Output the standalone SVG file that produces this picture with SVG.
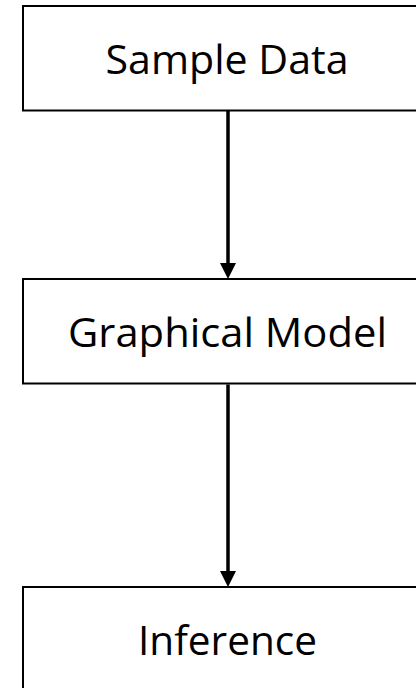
<svg xmlns="http://www.w3.org/2000/svg" width="416" height="688" viewBox="0 0 416 688">
  <style>
    .box { fill: #ffffff; stroke: #000000; stroke-width: 2; }
    .label { font-family: "Open Sans", "Noto Sans", "Liberation Sans", sans-serif; font-size: 41px; fill: #000000; text-anchor: middle; }
    .conn { stroke: #000000; stroke-width: 3.5; fill: none; }
  </style>
  <defs>
    <marker id="arrow" markerUnits="userSpaceOnUse" markerWidth="16" markerHeight="16" refX="2" refY="8" orient="auto">
      <path d="M0,0 L16,8 L0,16 z" fill="#000000"/>
    </marker>
  </defs>
  <rect x="0" y="0" width="416" height="688" fill="#ffffff"/>
  <g id="node-sample-data">
    <rect class="box" x="23" y="6" width="420" height="104.5"/>
    <text class="label" x="227" y="74" textLength="243" lengthAdjust="spacingAndGlyphs">Sample Data</text>
  </g>
  <g id="node-graphical-model">
    <rect class="box" x="23" y="279" width="420" height="104.5"/>
    <text class="label" x="227.5" y="347" textLength="319" lengthAdjust="spacingAndGlyphs">Graphical Model</text>
  </g>
  <g id="node-inference">
    <rect class="box" x="23" y="587" width="420" height="120"/>
    <text class="label" x="227.5" y="655" textLength="179" lengthAdjust="spacingAndGlyphs">Inference</text>
  </g>
  <g id="connectors">
    <line class="conn" x1="228" y1="111" x2="228" y2="265" marker-end="url(#arrow)"/>
    <line class="conn" x1="228" y1="384.5" x2="228" y2="573" marker-end="url(#arrow)"/>
  </g>
</svg>
